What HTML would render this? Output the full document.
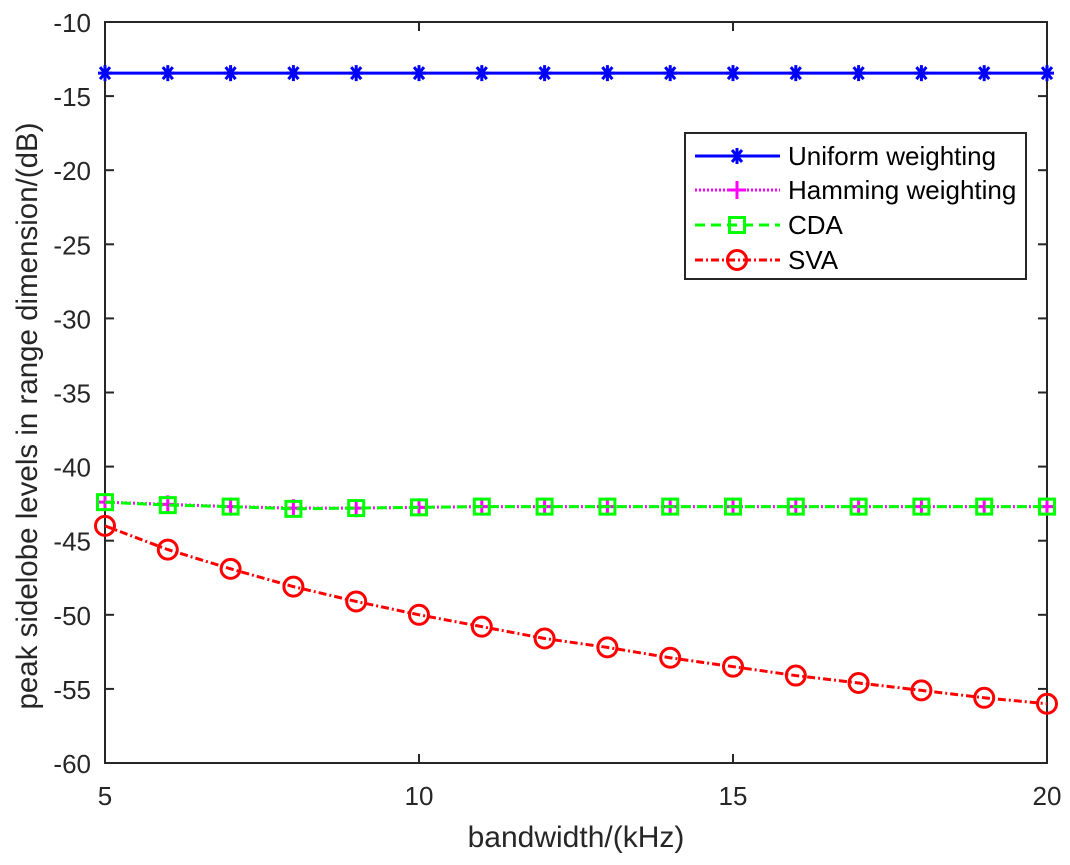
<!DOCTYPE html>
<html><head><meta charset="utf-8"><style>
body{margin:0;background:#fff;}
svg{display:block;font-family:"Liberation Sans",Arial,sans-serif;}
</style></head><body>
<svg id="chart" width="1070" height="865">
<rect x="0" y="0" width="1070" height="865" fill="#fff"/>
<g id="axes"></g>
<g id="series"></g>
<g id="legend"></g>
</svg>
<script>
const xValues=[5,6,7,8,9,10,11,12,13,14,15,16,17,18,19,20];
const uniformValues=[-13.45,-13.45,-13.45,-13.45,-13.45,-13.45,-13.45,-13.45,-13.45,-13.45,-13.45,-13.45,-13.45,-13.45,-13.45,-13.45];
const hammingValues=[-42.4,-42.55,-42.7,-42.8,-42.8,-42.75,-42.7,-42.7,-42.7,-42.7,-42.7,-42.7,-42.7,-42.7,-42.7,-42.7];
const cdaValues=[-42.4,-42.6,-42.7,-42.85,-42.8,-42.75,-42.7,-42.7,-42.7,-42.7,-42.7,-42.7,-42.7,-42.7,-42.7,-42.7];
const svaValues=[-44,-45.6,-46.9,-48.1,-49.1,-50,-50.8,-51.6,-52.2,-52.9,-53.5,-54.1,-54.6,-55.1,-55.6,-56];
const xTicks=[5,10,15,20];
const yTicks=[-10,-15,-20,-25,-30,-35,-40,-45,-50,-55,-60];
const NS="http://www.w3.org/2000/svg";
const L=105,R=1047,T=22,B=763;
const xs=v=>L+(v-5)/15*(R-L);
const ys=v=>T+(-10-v)/50*(B-T);
function mk(tag,attrs,parent){const e=document.createElementNS(NS,tag);for(const k in attrs)e.setAttribute(k,attrs[k]);parent.appendChild(e);return e;}
const axes=document.getElementById('axes');
const frame=mk('rect',{x:L,y:T,width:R-L,height:B-T,fill:'none',stroke:'#262626','stroke-width':2},axes);


xTicks.forEach(t=>{
 const x=xs(t);
 const l1=mk('line',{x1:x,x2:x,y1:B,y2:B-9,stroke:'#262626','stroke-width':2},axes);
 
 const l2=mk('line',{x1:x,x2:x,y1:T,y2:T+9,stroke:'#262626','stroke-width':2},axes);
 
 const tx=mk('text',{x:x,y:805,'text-anchor':'middle','font-size':26,fill:'#262626'},axes);
 tx.textContent=t;
});
yTicks.forEach(t=>{
 const y=ys(t);
 const l1=mk('line',{x1:L,x2:L+9,y1:y,y2:y,stroke:'#262626','stroke-width':2},axes);
 
 const l2=mk('line',{x1:R,x2:R-9,y1:y,y2:y,stroke:'#262626','stroke-width':2},axes);
 
 const tx=mk('text',{x:L-14,y:y+10,'text-anchor':'end','font-size':26,fill:'#262626'},axes);
 tx.textContent=t;
});
const xt=mk('text',{x:(L+R)/2,y:847,'text-anchor':'middle','font-size':30,fill:'#262626'},axes);
xt.textContent='bandwidth/(kHz)';
const yt=mk('text',{x:0,y:0,'text-anchor':'middle','font-size':29.5,fill:'#262626',transform:`translate(37,416) rotate(-90)`},axes);
yt.textContent='peak sidelobe levels in range dimension/(dB)';

const ser=document.getElementById('series');
function marker(type,x,y,color,g){
 if(type==='star'){
  mk('path',{d:`M${x-7} ${y}H${x+7}M${x} ${y-8}V${y+8}M${x-5} ${y-6}L${x+5} ${y+6}M${x-5} ${y+6}L${x+5} ${y-6}`,stroke:color,'stroke-width':3},g);
 }else if(type==='plus'){
  mk('path',{d:`M${x-9} ${y}H${x+9}M${x} ${y-9}V${y+9}`,stroke:color,'stroke-width':3},g);
 }else if(type==='square'){
  mk('rect',{x:x-7.5,y:y-7.5,width:15,height:15,fill:'none',stroke:color,'stroke-width':3},g);
 }else{
  mk('circle',{cx:x,cy:y,r:9.5,fill:'none',stroke:color,'stroke-width':3},g);
 }
}
const seriesDefs=[
 {name:'uniform-series',vals:uniformValues,color:'#0000ff',dash:'',w:3,m:'star'},
 {name:'hamming-series',vals:hammingValues,color:'#ff00ff',dash:'2 2',w:3,m:'plus'},
 {name:'cda-series',vals:cdaValues,color:'#00ff00',dash:'10 6',w:3,m:'square'},
 {name:'sva-series',vals:svaValues,color:'#ff0000',dash:'8 3 2 3',w:3,m:'circle'}
];
seriesDefs.forEach(s=>{
 const g=mk('g',{},ser);
 
 const pts=s.vals.map((v,i)=>xs(xValues[i])+','+ys(v)).join(' ');
 const pl=mk('polyline',{points:pts,fill:'none',stroke:s.color,'stroke-width':s.w,'stroke-dasharray':s.dash},g);
 
 s.vals.forEach((v,i)=>marker(s.m,xs(xValues[i]),ys(v),s.color,g));
});

const lg=document.getElementById('legend');
const box=mk('rect',{x:685,y:133,width:341,height:146,fill:'#fff',stroke:'#262626','stroke-width':2},lg);

const labels=['Uniform weighting','Hamming weighting','CDA','SVA'];
const rowY=[156,190,225,260];
seriesDefs.forEach((s,i)=>{
 const y=rowY[i];
 const g=mk('g',{},lg);
 
 mk('line',{x1:695,x2:780,y1:y,y2:y,stroke:s.color,'stroke-width':s.w,'stroke-dasharray':s.dash},g);
 marker(s.m,737,y,s.color,g);
 const t=mk('text',{x:788,y:y+9,'font-size':26,fill:'#000'},g);
 t.textContent=labels[i];
});
</script>
</body></html>
